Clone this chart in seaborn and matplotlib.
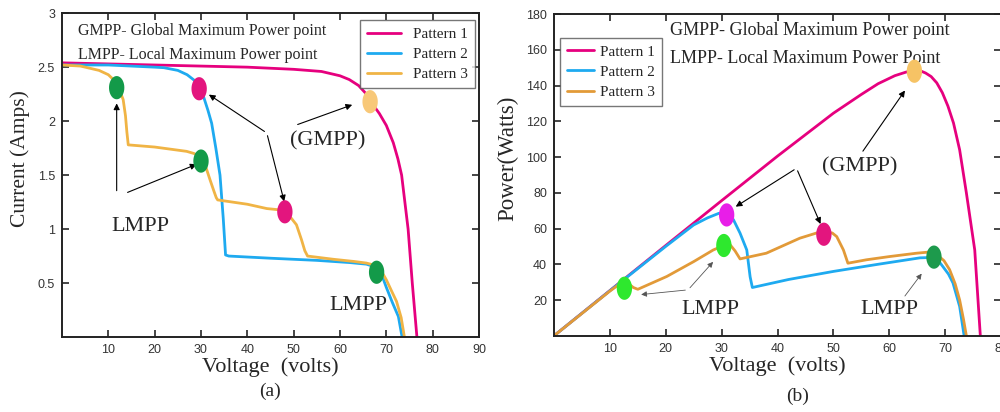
import numpy as np
import pandas as pd
import matplotlib
matplotlib.use("Agg")
import matplotlib.pyplot as plt
import seaborn as sns

# ---- (a) I-V curves ----
p1_v = [0, 10, 20, 30, 40, 50, 56, 60, 62, 64, 65.5, 67, 68.5, 70, 71.5, 72.5, 73.3, 74, 74.7,
        75.6, 76.6]
p1_i = [2.54, 2.53, 2.52, 2.51, 2.50, 2.48, 2.46, 2.42, 2.385, 2.33, 2.26, 2.16, 2.07, 1.96,
        1.80, 1.65, 1.5, 1.25, 1.0, 0.5, 0.0]

p2_v = [0, 10, 20, 22, 25, 27, 28.5, 29.6, 30.6, 31.5, 32.3, 33.2, 34.1, 34.8, 35.3, 36, 45, 55,
        62, 65.7, 67.5, 68.8, 70, 71.3, 72.6, 73.4]
p2_i = [2.52, 2.52, 2.50, 2.495, 2.47, 2.43, 2.38, 2.31, 2.22, 2.10, 1.98, 1.75, 1.5, 1.1, 0.76,
        0.75, 0.73, 0.71, 0.69, 0.675, 0.65, 0.6, 0.46, 0.32, 0.19, 0.0]

p3_v = [0, 4, 8, 10, 11.2, 12.3, 13.2, 13.7, 14.0, 14.3, 20, 26.9, 28.5, 30, 31, 32, 32.8, 33.3, 33.6,
        40, 44.2, 46.5, 48.1, 49.5, 50.6, 51.7, 52.4, 53, 58.6, 63, 65.7, 67.5, 68.8, 70, 71.2,
        72.2, 73.2, 73.9]
p3_i = [2.52, 2.51, 2.47, 2.43, 2.38, 2.30, 2.20, 2.05, 1.90, 1.78, 1.76, 1.72, 1.70, 1.66, 1.58, 1.45,
        1.35, 1.29, 1.27, 1.23, 1.19, 1.18, 1.15, 1.10, 1.04, 0.90, 0.80, 0.75, 0.72, 0.70, 0.685,
        0.665, 0.62, 0.53, 0.42, 0.33, 0.18, 0.0]

# ---- (b) P-V curves ----
q1_v = [0, 10, 20, 30, 40, 50, 55, 58, 61, 63, 64.5, 65.5, 66.5, 67.5, 68.5, 69.5, 70.5, 71.5,
        72.6, 73.8, 75.3, 76.3]
q1_p = [0, 25.3, 50.5, 75.6, 100.5, 124.5, 135, 141, 145.5, 147.5, 148.5, 148.3, 147, 145,
        141.5, 136, 128.5, 119, 104, 80, 48, 0]

q2_v = [0, 10, 20, 25, 27.5, 29.5, 31, 32.1, 33.3, 34.5, 35.1, 35.5, 42, 50, 58, 65.5, 67.5, 68.8,
        69.6, 70.6, 71.4, 72.6, 73.4]
q2_p = [0, 25.2, 50, 62, 66, 68.5, 68.2, 65, 57.4, 48, 33, 27, 31.5, 36, 40, 43.6, 43.8, 42,
        38.7, 34.5, 29.6, 16.4, 0]

q3_v = [0, 10, 12, 13.2, 14.2, 15, 20.2, 25, 28.5, 30.4, 31.5, 32.4, 33.3, 38, 44, 47, 48.5, 49.8,
        50.6, 51.8, 52.6, 55.9, 60, 64.9, 67, 68.5, 69.8, 70.8, 71.8, 72.6, 73.3, 73.8]
q3_p = [0, 25, 29.5, 29.5, 27, 26, 33.2, 41.5, 48, 50.5, 51, 47.5, 43, 46.2, 54.6, 57.5, 58.2, 57.5,
        55.5, 48, 40.6, 42.5, 44.3, 46.2, 46.8, 45.5, 42, 37, 29, 20, 9, 0]

patterns = ["Pattern 1", "Pattern 2", "Pattern 3"]

# marked operating points
mark_a_v = [11.8, 30.0, 29.6, 48.1, 66.5, 67.9]
mark_a_i = [2.31, 1.63, 2.30, 1.16, 2.18, 0.60]
mark_a_col = ["#139a49", "#139a49", "#e3157e", "#e3157e", "#f8c878", "#139a49"]

mark_b_v = [12.6, 30.4, 30.9, 48.3, 64.5, 68.0]
mark_b_p = [26.6, 50.5, 67.6, 56.8, 148, 44]
mark_b_col = ["#2ee82e", "#2ee82e", "#e81ee8", "#e3157e", "#f6c365", "#1d9a4c"]

pal_a = {"Pattern 1": "#e6007e", "Pattern 2": "#1eaaf0", "Pattern 3": "#f0b445"}
pal_b = {"Pattern 1": "#e6007e", "Pattern 2": "#1eaaf0", "Pattern 3": "#e29a38"}


def make_df(vs, ys):
    rows = []
    for name, v, y in zip(patterns, vs, ys):
        for k, (a, b) in enumerate(zip(v, y)):
            rows.append([name, k, a, b])
    return pd.DataFrame(rows, columns=["Pattern", "idx", "V", "Y"])


df_a = make_df([p1_v, p2_v, p3_v], [p1_i, p2_i, p3_i])
df_b = make_df([q1_v, q2_v, q3_v], [q1_p, q2_p, q3_p])

sns.set_style("ticks")
plt.rcParams["font.family"] = ["Liberation Serif", "DejaVu Serif"]
plt.rcParams["xtick.direction"] = "in"
plt.rcParams["ytick.direction"] = "in"
plt.rcParams["xtick.top"] = True
plt.rcParams["ytick.right"] = True

fig = plt.figure(figsize=(10, 4.12), dpi=100)
ax1 = fig.add_axes([0.062, 0.182, 0.417, 0.786])
ax2 = fig.add_axes([0.554, 0.185, 0.447, 0.781])

# oval marker
t = np.linspace(0, 2 * np.pi, 40)
oval = np.c_[0.66 * np.cos(t), np.sin(t)]

for ax, df, pal in [(ax1, df_a, pal_a), (ax2, df_b, pal_b)]:
    sns.lineplot(data=df, x="V", y="Y", hue="Pattern", palette=pal, units="Pattern",
                 estimator=None, sort=False, lw=2, ax=ax, legend=True)
    for s in ax.spines.values():
        s.set_linewidth(1.4)
        s.set_color("#222222")
    ax.tick_params(length=5, width=1.2, labelsize=9, pad=5, labelcolor="#333333")

sns.scatterplot(x=mark_a_v, y=mark_a_i, c=mark_a_col, marker=oval, s=280, ax=ax1,
                edgecolor="none", zorder=5)
sns.scatterplot(x=mark_b_v, y=mark_b_p, c=mark_b_col, marker=oval, s=280, ax=ax2,
                edgecolor="none", zorder=5)

# ---- panel (a) ----
ax1.set_xlim(0, 90)
ax1.set_ylim(0, 3)
ax1.set_xticks(range(10, 91, 10))
ax1.set_yticks([0.5, 1, 1.5, 2, 2.5, 3])
ax1.set_yticklabels(["0.5", "1", "1.5", "2", "2.5", "3"], fontfamily="Liberation Sans")
ax1.set_xticklabels([str(x) for x in range(10, 91, 10)], fontfamily="Liberation Sans")
ax1.set_xlabel("Voltage  (volts)", fontsize=16, labelpad=1)
ax1.set_ylabel("Current (Amps)", fontsize=15.5)
ax1.yaxis.set_label_coords(-0.076, 0.55)
ax1.text(0.5, -0.14, "(a)", transform=ax1.transAxes, ha="center", va="top", fontsize=14)
ax1.text(0.038, 0.945, "GMPP- Global Maximum Power point", transform=ax1.transAxes,
         fontsize=11.5, va="center")
ax1.text(0.038, 0.872, "LMPP- Local Maximum Power point", transform=ax1.transAxes,
         fontsize=11.5, va="center")
leg = ax1.legend(loc="upper right", bbox_to_anchor=(0.99, 0.978), borderaxespad=0, fontsize=11,
                 frameon=True, fancybox=False, edgecolor="#555555", handlelength=2.2,
                 borderpad=0.45, labelspacing=0.42)
leg.get_frame().set_linewidth(1.0)

arr = dict(arrowstyle="-|>", color="black", lw=0.8, mutation_scale=9)
ax1.text(17, 1.02, "LMPP", fontsize=16, ha="center", va="center")
ax1.annotate("", xy=(11.8, 2.19), xytext=(11.8, 1.33), arrowprops=arr)
ax1.annotate("", xy=(29.6, 1.61), xytext=(13.6, 1.33), arrowprops=arr)
ax1.text(64, 0.29, "LMPP", fontsize=16, ha="center", va="center")
ax1.text(57.4, 1.82, "(GMPP)", fontsize=16, ha="center", va="center")
ax1.annotate("", xy=(63.2, 2.16), xytext=(50.3, 1.96), arrowprops=arr)
ax1.annotate("", xy=(31.2, 2.26), xytext=(44.2, 1.89), arrowprops=arr)
ax1.annotate("", xy=(48.1, 1.23), xytext=(44.2, 1.89), arrowprops=arr)

# ---- panel (b) ----
ax2.set_xlim(0, 80)
ax2.set_ylim(0, 180)
ax2.set_xticks(range(10, 81, 10))
ax2.set_yticks(range(20, 181, 20))
ax2.set_xticklabels([str(x) for x in range(10, 81, 10)], fontfamily="Liberation Sans")
ax2.set_yticklabels([str(y) for y in range(20, 181, 20)], fontfamily="Liberation Sans")
ax2.set_xlabel("Voltage  (volts)", fontsize=16, labelpad=1)
ax2.set_ylabel("Power(Watts)", fontsize=16.5)
ax2.yaxis.set_label_coords(-0.08, 0.55)
ax2.text(0.545, -0.16, "(b)", transform=ax2.transAxes, ha="center", va="top", fontsize=14)
ax2.text(0.26, 0.95, "GMPP- Global Maximum Power point", transform=ax2.transAxes,
         fontsize=13, va="center")
ax2.text(0.26, 0.862, "LMPP- Local Maximum Power Point", transform=ax2.transAxes,
         fontsize=13, va="center")
leg = ax2.legend(loc="upper left", bbox_to_anchor=(0.013, 0.925), borderaxespad=0, fontsize=11,
                 frameon=True, fancybox=False, edgecolor="#555555", handlelength=1.8,
                 borderpad=0.45, labelspacing=0.42, handletextpad=0.4)
leg.get_frame().set_linewidth(1.0)

ax2.text(54.7, 94.6, "(GMPP)", fontsize=16, ha="center", va="center")
ax2.annotate("", xy=(63.1, 138.5), xytext=(55.0, 102), arrowprops=arr)
ax2.annotate("", xy=(32.1, 71.4), xytext=(43.4, 93.7), arrowprops=arr)
ax2.annotate("", xy=(47.9, 61.1), xytext=(43.4, 93.7), arrowprops=arr)
ax2.text(28.0, 14.5, "LMPP", fontsize=16, ha="center", va="center")
ax2.text(60.1, 14.5, "LMPP", fontsize=16, ha="center", va="center")
arr2 = dict(arrowstyle="-|>", color="#555555", lw=0.6, mutation_scale=8)
ax2.annotate("", xy=(15.1, 22.9), xytext=(24.0, 25.7), arrowprops=arr2)
ax2.annotate("", xy=(28.8, 42.5), xytext=(24.0, 25.7), arrowprops=arr2)
ax2.annotate("", xy=(66.1, 36), xytext=(62.5, 21), arrowprops=arr2)

fig.savefig("out.png", dpi=100)
